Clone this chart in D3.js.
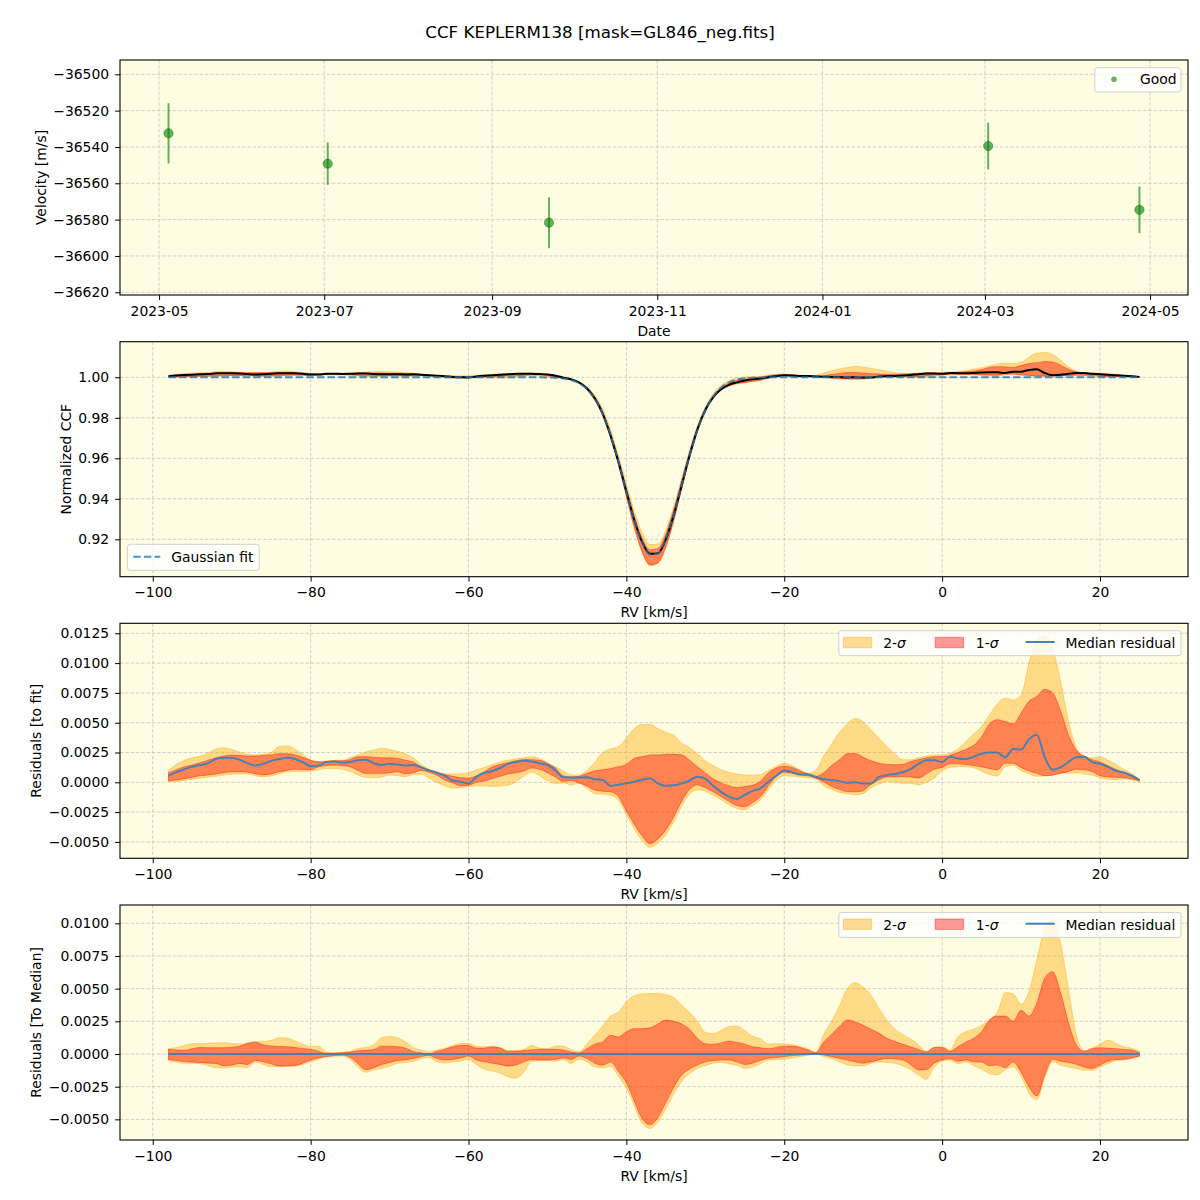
<!DOCTYPE html>
<html>
<head>
<meta charset="utf-8">
<script src="https://cdn.jsdelivr.net/npm/d3@7"></script>
<style>
  body { margin: 0; background: #ffffff; }
  text { font-family: "DejaVu Sans", sans-serif; }
</style>
</head>
<body>
<svg id="chart" width="1200" height="1200"></svg>
<script>
// ---------------- DATA ----------------
const chartTitle = "CCF KEPLERM138 [mask=GL846_neg.fits]";

// Panel 1: RV time series
const obsDates = ["2023-05-04T12:00:00", "2023-07-02T07:00:00", "2023-09-22T00:00:00", "2024-03-02T05:00:00", "2024-04-27T02:00:00"];
const obsVel = [-36532.5, -36549.2, -36581.7, -36539.5, -36574.6];
const obsErr = [16.6, 11.7, 14.0, 12.9, 12.8];
const p1YTicks = [-36620, -36600, -36580, -36560, -36540, -36520, -36500];
const p1XTicks = ["2023-05-01", "2023-07-01", "2023-09-01", "2023-11-01", "2024-01-01", "2024-03-01", "2024-05-01"];

// RV sampling grid (km/s), -98 ... 25
const rvGrid = d3.range(-98, 26, 1);
const rvTicks = [-100, -80, -60, -40, -20, 0, 20];

// Panel 2: Gaussian fit of the CCF on rvGrid
const fitCCF = [
  1,1,1,1,1,1,1,1,1,1,
  1,1,1,1,1,1,1,1,1,1,
  1,1,1,1,1,1,1,1,1,1,
  1,1,1,1,1,1,1,1,1,1,
  1,1,1,1,1,1,1,1,0.9999,0.9998,
  0.9994,0.9986,0.9971,0.9942,0.9894,0.9819,0.9714,0.9583,0.9437,0.9295,
  0.9184,0.9125,0.9132,0.9203,0.9322,0.9466,0.9611,0.9738,0.9836,0.9905,
  0.9949,0.9975,0.9989,0.9995,0.9998,0.9999,1,1,1,1,
  1,1,1,1,1,1,1,1,1,1,
  1,1,1,1,1,1,1,1,1,1,
  1,1,1,1,1,1,1,1,1,1,
  1,1,1,1,1,1,1,1,1,1,
  1,1,1,1];
const p2YTicks = [0.92, 0.94, 0.96, 0.98, 1.00];

// Panel 3: residuals to fit (values in units of 1e-3)
const res3Median = [
  0.55,0.85,1.1,1.3,1.45,1.6,1.95,2.05,2.05,1.9,
  1.6,1.4,1.55,1.8,1.95,2.05,1.95,1.7,1.35,1.4,
  1.7,1.75,1.65,1.7,1.85,1.9,1.6,1.45,1.55,1.5,
  1.4,1.45,1.25,1.0,0.8,0.55,0.15,0.05,-0.1,0.45,
  0.8,0.95,1.2,1.55,1.7,1.8,1.75,1.6,1.45,1.0,
  0.42,0.4,0.4,0.42,0.25,0.2,-0.3,-0.2,-0.08,0.05,
  0.2,0.33,-0.1,-0.28,-0.25,-0.1,0.15,0.47,0.3,-0.3,
  -0.8,-1.2,-1.4,-1.05,-0.72,-0.5,0.05,0.55,1.0,0.85,
  0.65,0.65,0.45,0.25,0.2,0.1,-0.05,0.0,-0.1,-0.1,
  0.45,0.6,0.7,0.85,1.1,1.55,1.85,1.85,1.7,2.15,
  2.0,1.95,2.15,2.4,2.5,2.5,2.1,2.8,2.75,3.6,
  4.0,2.1,1.05,1.25,1.7,2.1,2.15,1.7,1.55,1.3,
  0.97,0.82,0.55,0.2];
const res3Up2 = [
  1.0,1.5,1.85,2.05,2.2,2.45,2.8,2.9,2.75,2.55,
  2.35,2.3,2.35,2.5,3.0,3.05,2.8,2.35,1.85,1.75,
  1.78,1.85,1.85,2.05,2.3,2.55,2.7,2.85,2.75,2.6,
  2.4,2.05,1.5,1.1,0.85,0.72,0.7,0.72,0.8,1.05,
  1.25,1.5,1.7,1.85,1.95,2.05,2.15,2.0,1.6,1.3,
  0.95,0.62,0.6,1.0,1.7,2.5,2.8,3.0,3.7,4.5,
  4.85,4.85,4.5,4.2,3.95,3.3,2.9,2.4,1.8,1.4,
  1.05,0.85,0.7,0.62,0.6,0.65,1.0,1.35,1.6,1.4,
  1.05,0.75,1.0,2.2,3.2,4.2,4.9,5.35,5.1,4.4,
  3.7,3.0,2.4,1.9,1.9,2.05,2.2,2.3,2.3,2.45,
  2.8,3.4,4.05,4.7,5.64,6.6,7.05,6.9,7.3,10.0,
  11.9,12.3,11.2,8.5,5.2,2.9,2.2,2.05,2.15,1.85,
  1.5,1.1,0.75,0.25];
const res3Up1 = [
  0.8,1.05,1.3,1.45,1.65,1.85,2.05,2.2,2.28,2.25,
  2.2,2.2,2.25,2.3,2.4,2.4,2.3,2.1,1.85,1.7,
  1.73,1.8,1.8,1.9,2.15,2.15,2.1,2.05,2.05,2.0,
  1.85,1.7,1.3,1.05,0.85,0.65,0.5,0.38,0.35,0.55,
  0.85,1.3,1.5,1.65,1.8,1.92,1.9,1.85,1.6,1.2,
  0.55,0.45,0.5,0.75,0.95,1.05,1.15,1.3,1.5,2.0,
  2.15,2.28,2.3,2.33,2.35,2.3,1.85,1.3,0.8,0.3,
  -0.05,-0.3,-0.45,-0.35,-0.25,0.1,0.8,1.2,1.35,1.25,
  0.95,0.7,0.5,0.8,1.4,1.9,2.4,2.42,2.1,1.8,
  1.6,1.5,1.47,1.5,1.75,1.9,2.05,2.15,2.15,2.25,
  2.5,2.75,3.1,3.8,4.9,5.25,5.1,4.9,5.8,6.8,
  7.2,7.8,7.5,6.0,4.0,2.7,2.15,1.9,1.7,1.4,
  1.08,0.85,0.6,0.22];
const res3Lo1 = [
  0.12,0.2,0.3,0.42,0.55,0.62,0.7,0.8,0.88,0.89,
  0.85,0.72,0.62,0.7,0.88,1.0,1.1,1.08,1.05,1.3,
  1.4,1.45,1.4,1.3,1.0,0.75,0.75,0.75,0.8,0.88,
  0.72,0.8,1.0,0.85,0.6,0.2,-0.05,-0.28,-0.25,0.0,
  0.1,0.3,0.5,0.7,0.8,0.95,1.2,1.1,0.8,0.45,
  0.08,0.15,-0.05,-0.3,-0.65,-0.75,-0.8,-1.2,-2.4,-3.5,
  -4.5,-5.15,-4.75,-4.0,-2.9,-1.6,-0.6,-0.22,-0.45,-0.8,
  -1.2,-1.6,-1.95,-2.05,-1.7,-1.2,-0.3,0.5,0.85,0.75,
  0.62,0.55,0.35,0.05,-0.35,-0.6,-0.78,-0.8,-0.7,-0.15,
  0.2,0.45,0.47,0.47,0.45,0.35,0.7,1.1,1.25,1.55,
  1.55,1.5,1.4,1.3,1.15,1.05,1.6,1.6,1.25,0.95,
  0.75,0.55,0.6,0.75,0.9,1.1,1.05,0.9,0.55,0.45,
  0.42,0.38,0.3,0.12];
const res3Lo2 = [
  0.05,0.08,0.15,0.25,0.35,0.42,0.5,0.6,0.68,0.7,
  0.7,0.55,0.47,0.55,0.7,0.88,0.9,0.88,0.95,1.05,
  1.15,1.15,1.1,0.9,0.6,0.42,0.38,0.45,0.6,0.55,
  0.47,0.65,0.7,0.35,0.0,-0.3,-0.5,-0.45,-0.35,-0.3,
  -0.3,-0.35,-0.3,-0.25,0.05,0.5,0.85,0.55,0.15,-0.1,
  -0.05,-0.2,-0.1,-0.5,-0.95,-1.0,-1.1,-1.5,-2.7,-3.9,
  -4.9,-5.45,-5.1,-4.4,-3.3,-2.0,-1.0,-0.64,-0.75,-1.1,
  -1.45,-1.9,-2.2,-2.3,-1.95,-1.47,-0.6,0.2,0.55,0.5,
  0.45,0.4,0.3,-0.3,-0.6,-0.85,-0.95,-1.05,-0.95,-0.45,
  -0.15,0.06,0.0,-0.08,-0.1,-0.2,0.0,0.35,0.95,1.25,
  1.3,1.3,1.22,0.95,0.65,0.52,1.3,1.4,1.0,0.7,
  0.5,0.55,0.64,0.75,0.78,0.78,0.7,0.6,0.38,0.25,
  0.22,0.28,0.2,0.05];
const p3YTicks = [-0.005, -0.0025, 0, 0.0025, 0.005, 0.0075, 0.01, 0.0125];

// Panel 4: residuals to median (values in units of 1e-3)
const res4Up2 = [
  0.4,0.5,0.65,0.78,0.8,0.82,0.85,0.87,0.8,0.77,
  0.85,0.94,0.95,1.05,1.25,1.22,1.0,0.75,0.56,0.6,
  0.15,0.08,0.12,0.2,0.43,0.5,0.7,1.25,1.33,1.25,
  0.92,0.5,0.3,0.18,0.3,0.43,0.65,0.8,0.8,0.6,
  0.56,0.56,0.5,0.26,0.26,0.35,0.65,0.45,0.4,0.62,
  0.6,0.32,0.18,0.75,1.45,2.15,2.9,3.2,4.0,4.45,
  4.6,4.62,4.62,4.55,4.3,3.75,3.2,2.5,1.65,1.55,
  1.8,2.1,2.15,1.8,1.35,1.17,0.75,0.8,0.75,0.72,
  0.55,0.4,0.1,1.5,2.5,3.7,5.0,5.45,5.1,4.5,
  3.5,2.6,1.9,1.5,1.15,0.7,0.2,0.5,0.56,0.3,
  1.3,1.7,1.9,2.2,2.6,3.2,4.7,4.6,3.8,4.8,
  7.2,9.6,10.3,8.5,5.0,1.5,0.25,0.45,0.75,1.05,
  0.8,0.56,0.44,0.2];
const res4Up1 = [
  0.36,0.3,0.28,0.4,0.5,0.48,0.48,0.48,0.52,0.6,
  0.8,0.9,0.7,0.62,0.58,0.56,0.5,0.43,0.36,0.2,
  0.05,0.06,0.1,0.15,0.25,0.28,0.35,0.6,0.6,0.56,
  0.45,0.18,0.1,0.0,0.2,0.35,0.55,0.65,0.65,0.45,
  0.45,0.55,0.45,0.2,0.2,0.26,0.32,0.36,0.36,0.36,
  0.3,0.15,0.08,0.4,0.75,0.92,1.43,1.3,1.7,1.94,
  1.94,2.0,2.3,2.6,2.5,2.3,1.9,1.2,0.78,0.74,
  0.85,0.98,0.88,0.75,0.55,0.48,0.4,0.5,0.6,0.6,
  0.5,0.3,0.1,0.9,1.5,2.1,2.6,2.45,2.2,1.9,
  1.6,1.2,0.95,0.75,0.55,0.35,0.15,0.5,0.5,0.2,
  0.55,0.9,1.2,1.7,2.6,2.9,2.9,2.5,3.35,2.9,
  3.9,5.8,6.3,4.7,2.4,0.7,0.2,0.4,0.48,0.45,
  0.4,0.35,0.3,0.08];
const res4Lo1 = [
  -0.42,-0.5,-0.58,-0.62,-0.66,-0.7,-0.72,-0.9,-0.85,-0.72,
  -0.8,-0.5,-0.6,-0.75,-0.92,-0.9,-0.88,-0.7,-0.45,-0.3,
  -0.2,-0.12,-0.08,-0.25,-0.75,-1.2,-1.05,-0.8,-0.65,-0.5,
  -0.45,-0.35,-0.2,-0.1,-0.35,-0.45,-0.42,-0.3,-0.15,-0.45,
  -0.6,-0.7,-0.8,-0.92,-0.85,-0.6,-0.42,-0.45,-0.46,-0.4,
  -0.3,-0.42,-0.15,-0.35,-0.7,-0.85,-0.62,-1.35,-2.2,-3.6,
  -4.95,-5.4,-4.85,-3.7,-2.55,-1.6,-1.15,-0.85,-0.6,-0.5,
  -0.46,-0.45,-0.6,-0.8,-0.7,-0.48,-0.33,-0.27,-0.2,-0.12,
  -0.08,-0.04,0.0,-0.08,-0.2,-0.35,-0.46,-0.6,-0.7,-0.6,
  -0.45,-0.35,-0.38,-0.46,-0.8,-1.22,-1.2,-0.7,-0.45,-0.35,
  -0.55,-0.45,-0.6,-0.62,-0.9,-0.85,-1.05,-0.6,-1.4,-2.5,
  -3.2,-1.6,-0.4,-0.55,-0.65,-0.78,-1.0,-1.1,-0.85,-0.55,
  -0.42,-0.4,-0.3,-0.15];
const res4Lo2 = [
  -0.52,-0.62,-0.71,-0.71,-0.75,-0.9,-1.05,-1.08,-1.0,-1.0,
  -1.05,-0.62,-0.8,-0.97,-0.97,-0.95,-0.92,-0.8,-0.6,-0.4,
  -0.2,-0.18,-0.15,-0.4,-1.0,-1.4,-1.2,-1.1,-0.95,-0.72,
  -0.65,-0.55,-0.35,-0.26,-0.6,-0.7,-0.6,-0.55,-0.42,-0.8,
  -1.15,-1.3,-1.45,-1.75,-1.85,-1.4,-0.55,-0.52,-0.51,-0.55,
  -0.4,-0.72,-0.4,-0.6,-1.0,-1.05,-0.95,-1.7,-2.6,-3.95,
  -5.3,-5.7,-5.2,-4.2,-3.05,-2.1,-1.5,-1.1,-0.9,-0.7,
  -0.65,-0.75,-0.87,-1.1,-1.0,-0.74,-0.46,-0.43,-0.4,-0.3,
  -0.2,-0.1,0.0,-0.2,-0.35,-0.6,-0.84,-0.9,-0.92,-0.7,
  -0.59,-0.65,-0.71,-0.9,-1.2,-1.61,-1.95,-1.0,-0.55,-0.45,
  -0.75,-0.6,-0.9,-1.15,-1.5,-1.6,-1.2,-1.0,-1.7,-3.0,
  -3.5,-1.8,-0.6,-0.85,-1.0,-1.1,-1.25,-1.25,-1.0,-0.75,
  -0.5,-0.45,-0.35,-0.22];
const p4YTicks = [-0.005, -0.0025, 0, 0.0025, 0.005, 0.0075, 0.01];

// ---------------- LAYOUT / STYLE ----------------
const svg = d3.select("#chart");
const L = 120, R = 1188, PH = 235;
const tops = [60, 341.7, 623.3, 905];
const FS = 13.9;
const BG = "#fffde1";
const GRID = "#c4c4c8";
const BLUE = "#4682b4";

svg.append("rect").attr("width", 1200).attr("height", 1200).attr("fill", "#ffffff");

svg.append("text").attr("x", 600).attr("y", 38).attr("text-anchor", "middle")
  .attr("font-size", 16.7).attr("fill", "#000").text(chartTitle);

function setupPanel(top, x, y, xTicks, xFmt, yTicks, yFmt, xLabel, yLabel, yLabelX) {
  const bottom = top + PH;
  svg.append("rect").attr("x", L).attr("y", top).attr("width", R - L).attr("height", PH).attr("fill", BG);
  const grid = svg.append("g").attr("stroke", GRID).attr("stroke-width", 0.8).attr("stroke-dasharray", "3.5,1.8");
  xTicks.forEach(t => grid.append("line").attr("x1", x(t)).attr("x2", x(t)).attr("y1", top).attr("y2", bottom));
  yTicks.forEach(t => grid.append("line").attr("x1", L).attr("x2", R).attr("y1", y(t)).attr("y2", y(t)));

  const ax = svg.append("g").attr("transform", `translate(0,${bottom})`)
    .call(d3.axisBottom(x).tickValues(xTicks).tickFormat(xFmt).tickSize(4.9).tickPadding(6).tickSizeOuter(0));
  const ay = svg.append("g").attr("transform", `translate(${L},0)`)
    .call(d3.axisLeft(y).tickValues(yTicks).tickFormat(yFmt).tickSize(4.9).tickPadding(6).tickSizeOuter(0));
  [ax, ay].forEach(a => {
    a.select(".domain").remove();
    a.selectAll("text").attr("font-size", FS).attr("font-family", '"DejaVu Sans", sans-serif').attr("fill", "#000");
    a.selectAll("line").attr("stroke", "#000").attr("stroke-width", 1);
  });
  svg.append("text").attr("x", (L + R) / 2).attr("y", bottom + 40.5).attr("text-anchor", "middle")
    .attr("font-size", FS).attr("fill", "#000").text(xLabel);
  svg.append("text").attr("transform", `translate(${yLabelX},${top + PH / 2}) rotate(-90)`)
    .attr("text-anchor", "middle").attr("dominant-baseline", "central")
    .attr("font-size", FS).attr("fill", "#000").text(yLabel);
}

function frame(top) {
  svg.append("rect").attr("x", L).attr("y", top).attr("width", R - L).attr("height", PH)
    .attr("fill", "none").attr("stroke", "#000").attr("stroke-width", 1.1);
}

// ---------------- PANEL 1 ----------------
(function () {
  const top = tops[0], bottom = top + PH;
  const dates = obsDates.map(d => new Date(d));
  const ext = d3.extent(dates);
  const pad = (ext[1] - ext[0]) * 0.05;
  const x = d3.scaleTime().domain([new Date(+ext[0] - pad), new Date(+ext[1] + pad)]).range([L, R]);
  const y = d3.scaleLinear().domain([-36621.49, -36492.13]).range([bottom, top]);
  setupPanel(top, x, y, p1XTicks.map(d => new Date(d + "T00:00:00")), d3.timeFormat("%Y-%m"),
    p1YTicks, d3.format("d"), "Date", "Velocity [m/s]", 41);

  const g = svg.append("g");
  dates.forEach((d, i) => {
    g.append("line").attr("x1", x(d)).attr("x2", x(d))
      .attr("y1", y(obsVel[i] + obsErr[i])).attr("y2", y(obsVel[i] - obsErr[i]))
      .attr("stroke", "green").attr("stroke-opacity", 0.6).attr("stroke-width", 2);
    g.append("circle").attr("cx", x(d)).attr("cy", y(obsVel[i])).attr("r", 4.6)
      .attr("fill", "green").attr("fill-opacity", 0.6)
      .attr("stroke", "green").attr("stroke-opacity", 0.5).attr("stroke-width", 1);
  });
  frame(top);
  // legend
  const lg = svg.append("g");
  lg.append("rect").attr("x", 1094.8).attr("y", top + 7.7).attr("width", 86.2).attr("height", 24.3)
    .attr("rx", 3).attr("fill", "#fff").attr("fill-opacity", 0.8).attr("stroke", "#d0d0d0").attr("stroke-width", 1);
  lg.append("circle").attr("cx", 1114).attr("cy", top + 19.3).attr("r", 2.8)
    .attr("fill", "green").attr("fill-opacity", 0.6);
  lg.append("text").attr("x", 1140).attr("y", top + 24.3).attr("font-size", FS).attr("fill", "#000").text("Good");
})();

// shared RV x-scale
const rvExt = d3.extent(rvGrid);
const rvPad = (rvExt[1] - rvExt[0]) * 0.05;
function rvScale() { return d3.scaleLinear().domain([rvExt[0] - rvPad, rvExt[1] + rvPad]).range([L, R]); }

function drawBands(x, y, lo2, hi2, lo1, hi1) {
  const idx = rvGrid.map((r, i) => i);
  const area = (lo, hi) => d3.area().curve(d3.curveMonotoneX)
    .x(i => x(rvGrid[i])).y0(i => y(lo[i])).y1(i => y(hi[i]));
  svg.append("path").attr("d", area(lo2, hi2)(idx))
    .attr("fill", "orange").attr("fill-opacity", 0.4)
    .attr("stroke", "orange").attr("stroke-opacity", 0.4).attr("stroke-width", 1);
  svg.append("path").attr("d", area(lo1, hi1)(idx))
    .attr("fill", "red").attr("fill-opacity", 0.4)
    .attr("stroke", "red").attr("stroke-opacity", 0.4).attr("stroke-width", 1);
}
function drawLine(x, y, vals, color, width, dash) {
  const idx = rvGrid.map((r, i) => i);
  const p = svg.append("path").attr("d", d3.line().curve(d3.curveMonotoneX)
      .x(i => x(rvGrid[i])).y(i => y(vals[i]))(idx))
    .attr("fill", "none").attr("stroke", color).attr("stroke-width", width);
  if (dash) p.attr("stroke-dasharray", dash);
  return p;
}
function sigmaLegend(top) {
  const lg = svg.append("g");
  lg.append("rect").attr("x", 838.8).attr("y", top + 7.4).attr("width", 342.2).attr("height", 25)
    .attr("rx", 3).attr("fill", "#fff").attr("fill-opacity", 0.8).attr("stroke", "#d0d0d0").attr("stroke-width", 1);
  lg.append("rect").attr("x", 843.4).attr("y", top + 14).attr("width", 28.3).attr("height", 10.4)
    .attr("fill", "orange").attr("fill-opacity", 0.4).attr("stroke", "orange").attr("stroke-opacity", 0.4);
  const t1 = lg.append("text").attr("x", 883.2).attr("y", top + 24.5).attr("font-size", FS).attr("fill", "#000");
  t1.append("tspan").text("2-");
  t1.append("tspan").attr("font-style", "italic").text("σ");
  lg.append("rect").attr("x", 935.2).attr("y", top + 14).attr("width", 28.4).attr("height", 10.4)
    .attr("fill", "red").attr("fill-opacity", 0.4).attr("stroke", "red").attr("stroke-opacity", 0.4);
  const t2 = lg.append("text").attr("x", 975.8).attr("y", top + 24.5).attr("font-size", FS).attr("fill", "#000");
  t2.append("tspan").text("1-");
  t2.append("tspan").attr("font-style", "italic").text("σ");
  lg.append("line").attr("x1", 1025.6).attr("x2", 1054.7).attr("y1", top + 18.7).attr("y2", top + 18.7)
    .attr("stroke", BLUE).attr("stroke-width", 2);
  lg.append("text").attr("x", 1065.4).attr("y", top + 24.5).attr("font-size", FS).attr("fill", "#000").text("Median residual");
}

// ---------------- PANEL 2 ----------------
(function () {
  const top = tops[1], bottom = top + PH;
  const x = rvScale();
  const y = d3.scaleLinear().domain([0.90153, 1.01758]).range([bottom, top]);
  setupPanel(top, x, y, rvTicks, d3.format("d"), p2YTicks, d3.format(".2f"), "RV [km/s]", "Normalized CCF", 66);
  const k = 1e-3;
  const add = arr => fitCCF.map((f, i) => f + arr[i] * k);
  drawBands(x, y, add(res3Lo2), add(res3Up2), add(res3Lo1), add(res3Up1));
  drawLine(x, y, add(res3Median), "#000", 2);
  drawLine(x, y, fitCCF, "#1f77b4", 2, "7.4,3.2").attr("stroke-opacity", 0.8);
  frame(top);
  const lg = svg.append("g");
  lg.append("rect").attr("x", 127.4).attr("y", top + 202.6).attr("width", 131.8).attr("height", 26)
    .attr("rx", 3).attr("fill", "#fff").attr("fill-opacity", 0.8).attr("stroke", "#d0d0d0").attr("stroke-width", 1);
  lg.append("line").attr("x1", 133.3).attr("x2", 160.3).attr("y1", top + 215).attr("y2", top + 215)
    .attr("stroke", "#1f77b4").attr("stroke-opacity", 0.8).attr("stroke-width", 2).attr("stroke-dasharray", "7.4,3.2");
  lg.append("text").attr("x", 171.2).attr("y", top + 220).attr("font-size", FS).attr("fill", "#000").text("Gaussian fit");
})();

// ---------------- PANEL 3 ----------------
(function () {
  const top = tops[2], bottom = top + PH;
  const x = rvScale();
  const y = d3.scaleLinear().domain([-0.006376, 0.01334]).range([bottom, top]);
  setupPanel(top, x, y, rvTicks, d3.format("d"), p3YTicks, d3.format(".4f"), "RV [km/s]", "Residuals [to fit]", 36);
  const s = arr => arr.map(v => v * 1e-3);
  drawBands(x, y, s(res3Lo2), s(res3Up2), s(res3Lo1), s(res3Up1));
  drawLine(x, y, s(res3Median), BLUE, 2);
  frame(top);
  sigmaLegend(top);
})();

// ---------------- PANEL 4 ----------------
(function () {
  const top = tops[3], bottom = top + PH;
  const x = rvScale();
  const y = d3.scaleLinear().domain([-0.00658, 0.0114]).range([bottom, top]);
  setupPanel(top, x, y, rvTicks, d3.format("d"), p4YTicks, d3.format(".4f"), "RV [km/s]", "Residuals [To Median]", 36);
  const s = arr => arr.map(v => v * 1e-3);
  drawBands(x, y, s(res4Lo2), s(res4Up2), s(res4Lo1), s(res4Up1));
  drawLine(x, y, rvGrid.map(() => 0), BLUE, 2);
  frame(top);
  sigmaLegend(top);
})();
</script>
</body>
</html>
